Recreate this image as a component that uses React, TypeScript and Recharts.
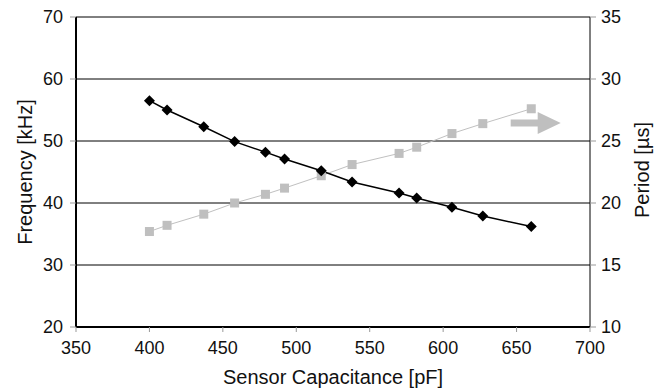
import React from "react";
import {
  LineChart,
  Line,
  XAxis,
  YAxis,
  CartesianGrid,
  ReferenceDot,
  Label,
} from "recharts";

const capacitance = [400, 412, 437, 458, 479, 492, 517, 538, 570, 582, 606, 627, 660];
const frequency = [56.5, 55.0, 52.3, 49.9, 48.2, 47.1, 45.2, 43.4, 41.6, 40.8, 39.3, 37.9, 36.2];
const period = [17.7, 18.2, 19.1, 20.0, 20.7, 21.2, 22.2, 23.1, 24.0, 24.5, 25.6, 26.4, 27.6];

const xTicks = [350, 400, 450, 500, 550, 600, 650, 700];
const freqTicks = [20, 30, 40, 50, 60, 70];
const periodTicks = [10, 15, 20, 25, 30, 35];

const data = capacitance.map((c, i) => ({
  cap: c,
  freq: frequency[i],
  period: period[i],
}));

const FONT = "'Liberation Sans', Arial, sans-serif";
const tickStyle = { fontSize: 18, fill: "#111", fontFamily: FONT };

const Diamond = (props: any) => {
  const { cx, cy, index } = props;
  if (cx == null || cy == null) return null;
  const r = 5.5;
  return (
    <polygon
      key={`d-${index}`}
      points={`${cx},${cy - r} ${cx + r},${cy} ${cx},${cy + r} ${cx - r},${cy}`}
      fill="#000"
    />
  );
};

const Square = (props: any) => {
  const { cx, cy, index } = props;
  if (cx == null || cy == null) return null;
  const s = 9;
  return (
    <rect key={`s-${index}`} x={cx - s / 2} y={cy - s / 2} width={s} height={s} fill="#bfbfbf" />
  );
};

const Arrow = (props: any) => {
  const { cx, cy } = props;
  if (cx == null || cy == null) return null;
  return (
    <polygon
      points={`${cx},${cy - 3.5} ${cx + 27},${cy - 3.5} ${cx + 27},${cy - 11} ${cx + 50},${cy} ${cx + 27},${cy + 11} ${cx + 27},${cy + 3.5} ${cx},${cy + 3.5}`}
      fill="#bfbfbf"
    />
  );
};

const titleProps = { fontSize: 20, fill: "#111", fontFamily: FONT, textAnchor: "middle" as const };

export default function App() {
  return (
    <div style={{ position: "absolute", left: 0, top: 0, background: "#fff" }}>
      <LineChart
        width={664}
        height={389}
        data={data}
        margin={{ top: 17, right: 0, bottom: 0, left: 0 }}
        style={{ fontFamily: FONT }}
      >
        <CartesianGrid
          yAxisId="left"
          vertical={false}
          horizontal={true}
          stroke="#000"
          strokeWidth={1}
        />
        <XAxis
          dataKey="cap"
          type="number"
          domain={[350, 700]}
          ticks={xTicks}
          height={62}
          tick={tickStyle}
          tickSize={5}
          tickMargin={9}
          tickLine={{ stroke: "#999" }}
          axisLine={{ stroke: "#000", strokeWidth: 2 }}
        >
          <Label
            content={() => (
              <text x={333} y={384} {...titleProps}>
                Sensor Capacitance [pF]
              </text>
            )}
          />
        </XAxis>
        <YAxis
          yAxisId="left"
          domain={[20, 70]}
          ticks={freqTicks}
          width={76}
          tick={tickStyle}
          tickSize={6}
          tickMargin={7}
          tickLine={{ stroke: "#999" }}
          axisLine={{ stroke: "#000", strokeWidth: 2 }}
        >
          <Label
            content={() => (
              <text x={0} y={0} transform="translate(32, 172) rotate(-90)" {...titleProps}>
                Frequency [kHz]
              </text>
            )}
          />
        </YAxis>
        <YAxis
          yAxisId="right"
          orientation="right"
          domain={[10, 35]}
          ticks={periodTicks}
          width={74}
          tick={tickStyle}
          tickSize={6}
          tickMargin={5}
          tickLine={{ stroke: "#999" }}
          axisLine={{ stroke: "#000", strokeWidth: 1 }}
        >
          <Label
            content={() => (
              <text x={0} y={0} transform="translate(649, 170) rotate(-90)" {...titleProps}>
                Period [µs]
              </text>
            )}
          />
        </YAxis>
        <Line
          yAxisId="right"
          dataKey="period"
          stroke="#c0c0c0"
          strokeWidth={1}
          dot={Square}
          activeDot={false}
          isAnimationActive={false}
        />
        <Line
          yAxisId="left"
          dataKey="freq"
          stroke="#000"
          strokeWidth={1.5}
          dot={Diamond}
          activeDot={false}
          isAnimationActive={false}
        />
        <ReferenceDot
          yAxisId="right"
          x={646}
          y={26.45}
          ifOverflow="visible"
          shape={Arrow}
        />
      </LineChart>
    </div>
  );
}
